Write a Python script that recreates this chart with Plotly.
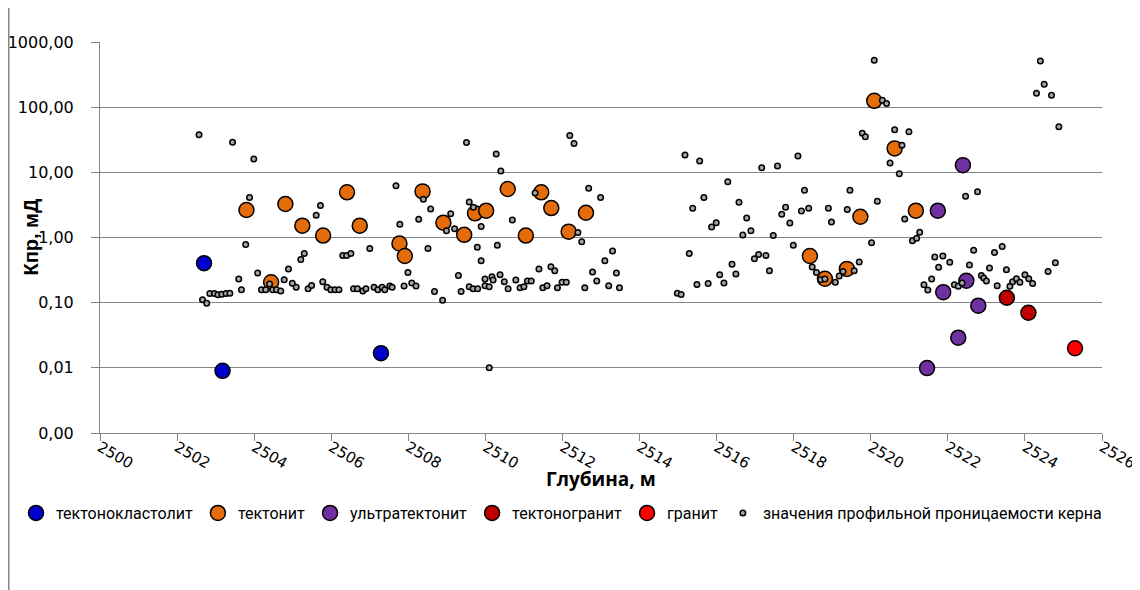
import plotly.graph_objects as go

# ---------------- data ----------------
gray_depth = [
    2502.57, 2502.66, 2502.77, 2502.85, 2502.97, 2503.06, 2503.16, 2503.27, 2503.37, 2503.44,
    2503.60, 2503.67, 2503.78, 2503.88, 2503.99, 2504.09, 2504.19, 2504.30, 2504.40, 2504.48,
    2504.58, 2504.69, 2504.78, 2504.89, 2504.99, 2505.09, 2505.21, 2505.30, 2505.40, 2505.49,
    2505.61, 2505.72, 2505.78, 2505.89, 2505.99, 2506.10, 2506.20, 2506.30, 2506.40, 2506.51,
    2506.58, 2506.68, 2506.82, 2506.90, 2507.00, 2507.11, 2507.21, 2507.32, 2507.39, 2507.52,
    2507.58, 2507.68, 2507.78, 2507.89, 2507.99, 2508.09, 2508.20, 2508.27, 2508.39, 2508.51,
    2508.58, 2508.68, 2508.89, 2508.99, 2509.10, 2509.20, 2509.30, 2509.37, 2509.51, 2509.58,
    2509.58, 2509.68, 2509.69, 2509.79, 2509.80, 2509.89, 2509.89, 2509.99, 2509.99, 2510.10,
    2510.10, 2510.17, 2510.20, 2510.28, 2510.31, 2510.38, 2510.40, 2510.49, 2510.59, 2510.70,
    2510.79, 2510.90, 2511.00, 2511.09, 2511.19, 2511.29, 2511.39, 2511.49, 2511.60, 2511.70,
    2511.80, 2511.87, 2511.99, 2512.10, 2512.19, 2512.30, 2512.40, 2512.50, 2512.58, 2512.68,
    2512.78, 2512.89, 2512.99, 2513.10, 2513.20, 2513.30, 2513.40, 2513.48,
    2514.98, 2515.08, 2515.18, 2515.29, 2515.38, 2515.49, 2515.56, 2515.67, 2515.78, 2515.87,
    2515.99, 2516.08, 2516.19, 2516.29, 2516.40, 2516.50, 2516.58, 2516.68, 2516.78, 2516.89,
    2516.98, 2517.09, 2517.17, 2517.28, 2517.37, 2517.47, 2517.58, 2517.69, 2517.79, 2517.90,
    2517.99, 2518.11, 2518.20, 2518.28, 2518.39, 2518.48, 2518.59, 2518.70, 2518.81, 2518.90,
    2518.98, 2519.08, 2519.18, 2519.28, 2519.39, 2519.46, 2519.57, 2519.70, 2519.78, 2519.86,
    2520.02, 2520.09, 2520.17, 2520.30, 2520.41, 2520.50, 2520.62, 2520.74, 2520.81, 2520.88,
    2520.99, 2521.08, 2521.19, 2521.27, 2521.38, 2521.48, 2521.58, 2521.66, 2521.76, 2521.87,
    2522.05, 2522.17, 2522.27, 2522.37, 2522.46, 2522.56, 2522.67, 2522.77, 2522.87, 2522.93,
    2523.00, 2523.08, 2523.21, 2523.28, 2523.41, 2523.52, 2523.61, 2523.68, 2523.78, 2523.87,
    2524.00, 2524.10, 2524.20, 2524.30, 2524.40, 2524.50, 2524.60, 2524.69, 2524.79, 2524.88,
]
gray_kpr = [
    37.8, 0.111, 0.098, 0.138, 0.138, 0.132, 0.135, 0.138, 0.14, 28.9,
    0.23, 0.158, 0.78, 4.1, 16.0, 0.285, 0.158, 0.158, 0.194, 0.158,
    0.158, 0.151, 0.225, 0.33, 0.199, 0.173, 0.46, 0.57, 0.164, 0.183,
    2.2, 3.1, 0.21, 0.173, 0.158, 0.158, 0.158, 0.53, 0.53, 0.57,
    0.164, 0.164, 0.151, 0.164, 0.68, 0.173, 0.158, 0.173, 0.158, 0.18,
    0.173, 6.2, 1.6, 0.18, 0.29, 0.2, 0.18, 1.9, 3.85, 0.68,
    2.73, 0.148, 0.109, 1.27, 2.32, 1.36, 0.26, 0.148, 28.8, 3.5,
    0.176, 0.164, 2.9, 0.71, 0.164, 1.47, 0.44, 0.23, 0.182, 0.176,
    0.01, 0.25, 0.223, 19.1, 0.76, 0.268, 10.5, 0.21, 0.164, 1.85,
    0.223, 0.17, 0.176, 0.215, 0.215, 4.8, 0.33, 0.17, 0.182, 0.357,
    0.31, 0.17, 0.206, 0.206, 36.9, 27.8, 1.19, 0.86, 0.17, 5.7,
    0.295, 0.215, 4.1, 0.44, 0.182, 0.62, 0.285, 0.17,
    0.14, 0.133, 18.4, 0.57, 2.8, 0.19, 14.9, 4.1, 0.196, 1.45,
    1.69, 0.267, 0.2, 7.2, 0.39, 0.275, 3.47, 1.09, 1.99, 1.27,
    0.47, 0.55, 11.8, 0.53, 0.31, 1.07, 12.5, 2.27, 2.9, 1.67,
    0.76, 17.8, 2.55, 5.3, 2.8, 0.353, 0.29, 0.225, 0.23, 2.8,
    1.73, 0.206, 0.257, 0.3, 2.7, 5.3, 0.31, 0.42, 39.7, 35.1,
    0.83, 527.0, 3.6, 128.0, 114.0, 13.9, 45.0, 9.5, 26.0, 1.92,
    42.0, 0.89, 0.97, 1.2, 0.189, 0.157, 0.23, 0.50, 0.35, 0.52,
    0.417, 0.189, 0.178, 0.2, 4.3, 0.38, 0.64, 5.05, 0.26, 0.24,
    0.215, 0.34, 0.59, 0.182, 0.73, 0.32, 0.178, 0.21, 0.232, 0.206,
    0.268, 0.232, 0.196, 163.0, 509.0, 224.0, 0.30, 152.0, 0.41, 50.0,
]

blue_depth = [2502.70, 2503.18, 2507.29]
blue_kpr = [0.404, 0.009, 0.0168]

orange_depth = [2503.80, 2504.44, 2504.81, 2505.25, 2505.79, 2506.41, 2506.74, 2507.77, 2507.91,
                2508.37, 2508.91, 2509.45, 2509.73, 2510.02, 2510.58, 2511.05, 2511.45, 2511.71,
                2512.16, 2512.61, 2518.42, 2518.81, 2519.38, 2519.73, 2520.09, 2520.62, 2521.17]
orange_kpr = [2.64, 0.206, 3.27, 1.52, 1.07, 4.93, 1.52, 0.81, 0.52,
              5.1, 1.69, 1.1, 2.35, 2.58, 5.55, 1.07, 4.93, 2.83,
              1.23, 2.4, 0.52, 0.233, 0.33, 2.08, 125.0, 23.3, 2.58]

purple_depth = [2521.46, 2521.74, 2521.88, 2522.27, 2522.39, 2522.48, 2522.79]
purple_kpr = [0.0099, 2.58, 0.145, 0.029, 12.9, 0.217, 0.09]

darkred_depth = [2523.53, 2524.09]
darkred_kpr = [0.119, 0.070]

red_depth = [2525.30]
red_kpr = [0.02]

y_tickvals = [0.001, 0.01, 0.1, 1, 10, 100, 1000]
y_ticktext = ["0,00", "0,01", "0,10", "1,00", "10,00", "100,00", "1000,00"]
x_tickvals = list(range(2500, 2527, 2))

names = ["тектонокластолит", "тектонит", "ультратектонит", "тектоногранит", "гранит",
         "значения профильной проницаемости керна"]

# ---------------- figure ----------------
fig = go.Figure()

big = dict(size=15, line=dict(color="black", width=1.5))
series = [
    (blue_depth, blue_kpr, names[0], "#0000CC"),
    (orange_depth, orange_kpr, names[1], "#E46C0A"),
    (purple_depth, purple_kpr, names[2], "#7030A0"),
    (darkred_depth, darkred_kpr, names[3], "#C00000"),
    (red_depth, red_kpr, names[4], "#FF0000"),
]
for xs, ys, nm, col in series:
    fig.add_trace(go.Scatter(x=xs, y=ys, mode="markers", name=nm,
                             marker=dict(color=col, **big)))

fig.add_trace(go.Scatter(x=gray_depth, y=gray_kpr, mode="markers", name=names[5],
                         marker=dict(color="#A6A6A6", size=5.5,
                                     line=dict(color="black", width=1.5))))

# page is offset by the 8px body margin; work in page pixels
OFF = 8
W, H = 1140 - OFF, 590 - OFF
L = 100 - OFF
T = 42 - OFF
PW = 1002.3
PB = 433 - OFF           # plot bottom in figure pixels
R = W - L - PW
B = H - PB
ph = PB - T


def px(xp):   # page x -> paper fraction
    return (xp - OFF - L) / PW


def py(yp):   # page y -> paper fraction
    return (PB - (yp - OFF)) / ph


fig.update_layout(
    width=W, height=H,
    margin=dict(l=L, r=R, t=T, b=B, autoexpand=False),
    plot_bgcolor="white", paper_bgcolor="white",
    font=dict(family="DejaVu Sans", color="black"),
    showlegend=True,
    legend=dict(orientation="h", x=px(16), xanchor="left",
                y=py(513), yanchor="middle", bgcolor="rgba(0,0,0,0)",
                font=dict(family="Roboto", size=16, color="black"),
                itemwidth=30, tracegroupgap=0),
    xaxis=dict(range=[2500, 2526], tickvals=x_tickvals, tickangle=30,
               showgrid=False, zeroline=False, automargin=False,
               showline=True, linecolor="#868686", linewidth=1,
               ticks="outside", ticklen=7, tickcolor="#868686",
               ticklabelstandoff=-8, ticklabeloverflow="allow",
               tickfont=dict(family="DejaVu Sans", size=15, color="black")),
    yaxis=dict(type="log", range=[-3, 3], tickvals=y_tickvals, ticktext=y_ticktext,
               showgrid=True, gridcolor="#868686", gridwidth=1, zeroline=False,
               automargin=False,
               showline=True, linecolor="#868686", linewidth=1,
               ticks="outside", ticklen=8, tickcolor="#868686",
               ticklabelstandoff=14, ticklabeloverflow="allow",
               tickfont=dict(family="DejaVu Sans", size=16, color="black")),
    annotations=[
        dict(text="<b>Глубина, м</b>", xref="paper", yref="paper",
             x=0.5, y=py(479), xanchor="center", yanchor="middle",
             showarrow=False, font=dict(family="Open Sans", size=19, color="black")),
        dict(text="<b>Кпр, мД</b>", xref="paper", yref="paper",
             x=px(30), y=0.5, xanchor="center", yanchor="middle", textangle=-90,
             showarrow=False, font=dict(family="Liberation Sans", size=20, color="black")),
    ],
    shapes=[
        dict(type="line", xref="paper", yref="paper",
             x0=px(8.5), x1=px(8.5), y0=py(600), y1=py(0),
             line=dict(color="#868686", width=2)),
    ],
)

fig.write_html("out.html")
